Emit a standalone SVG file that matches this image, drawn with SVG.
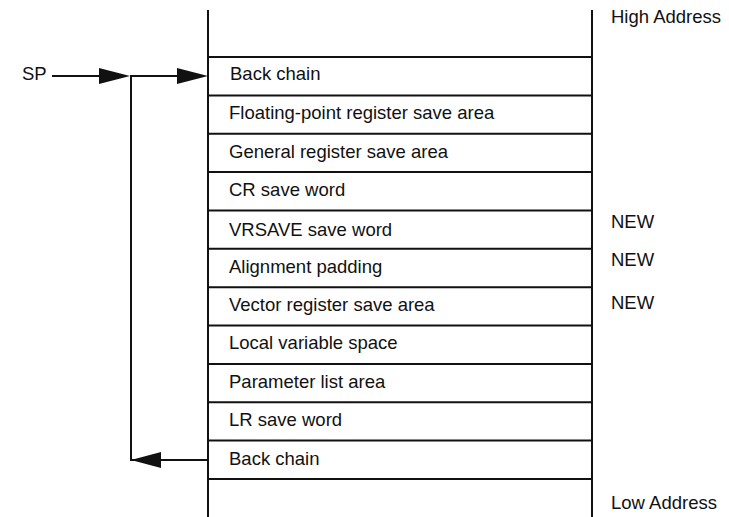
<svg xmlns="http://www.w3.org/2000/svg" width="729" height="517" viewBox="0 0 729 517">
<style>
text{font-family:"Liberation Sans",Arial,sans-serif;font-size:18.5px;fill:#111}
.ln{stroke:#111;stroke-width:2;fill:none}
.ah{fill:#111}
</style>
<rect width="729" height="517" fill="#fff"/>
<g id="stack">
<line class="ln" x1="208" y1="10" x2="208" y2="517"/>
<line class="ln" x1="592" y1="10" x2="592" y2="517"/>
<line class="ln" x1="208" y1="57" x2="592" y2="57"/>
<line class="ln" x1="208" y1="95.4" x2="592" y2="95.4"/>
<line class="ln" x1="208" y1="133.7" x2="592" y2="133.7"/>
<line class="ln" x1="208" y1="172.1" x2="592" y2="172.1"/>
<line class="ln" x1="208" y1="210.4" x2="592" y2="210.4"/>
<line class="ln" x1="208" y1="248.8" x2="592" y2="248.8"/>
<line class="ln" x1="208" y1="287.2" x2="592" y2="287.2"/>
<line class="ln" x1="208" y1="325.5" x2="592" y2="325.5"/>
<line class="ln" x1="208" y1="363.9" x2="592" y2="363.9"/>
<line class="ln" x1="208" y1="402.2" x2="592" y2="402.2"/>
<line class="ln" x1="208" y1="440.6" x2="592" y2="440.6"/>
<line class="ln" x1="208" y1="479" x2="592" y2="479"/>
</g>
<g id="row1"><text x="230" y="80">Back chain</text></g>
<g id="row2"><text x="229" y="119">Floating-point register save area</text></g>
<g id="row3"><text x="229" y="158">General register save area</text></g>
<g id="row4"><text x="229" y="196">CR save word</text></g>
<g id="row5"><text x="229" y="236">VRSAVE save word</text></g>
<g id="row6"><text x="229" y="273">Alignment padding</text></g>
<g id="row7"><text x="229" y="311">Vector register save area</text></g>
<g id="row8"><text x="229" y="349">Local variable space</text></g>
<g id="row9"><text x="229" y="388">Parameter list area</text></g>
<g id="row10"><text x="229" y="426">LR save word</text></g>
<g id="row11"><text x="229" y="465">Back chain</text></g>
<g id="labels">
<text x="611" y="23">High Address</text>
<text x="611" y="509">Low Address</text>
<text x="611" y="228">NEW</text>
<text x="611" y="266">NEW</text>
<text x="611" y="309">NEW</text>
<text x="22" y="80">SP</text>
</g>
<g id="connectors">
<line class="ln" x1="52" y1="76" x2="110" y2="76"/>
<polygon class="ah" points="130,76 99,68 99,84"/>
<polyline class="ln" points="131,76 180,76"/>
<polygon class="ah" points="208,76 177,68 177,84"/>
<polyline class="ln" points="131,75 131,460 165,460"/>
<line class="ln" x1="160" y1="460" x2="208" y2="460"/>
<polygon class="ah" points="131,460 161,452 161,468"/>
</g>
</svg>
